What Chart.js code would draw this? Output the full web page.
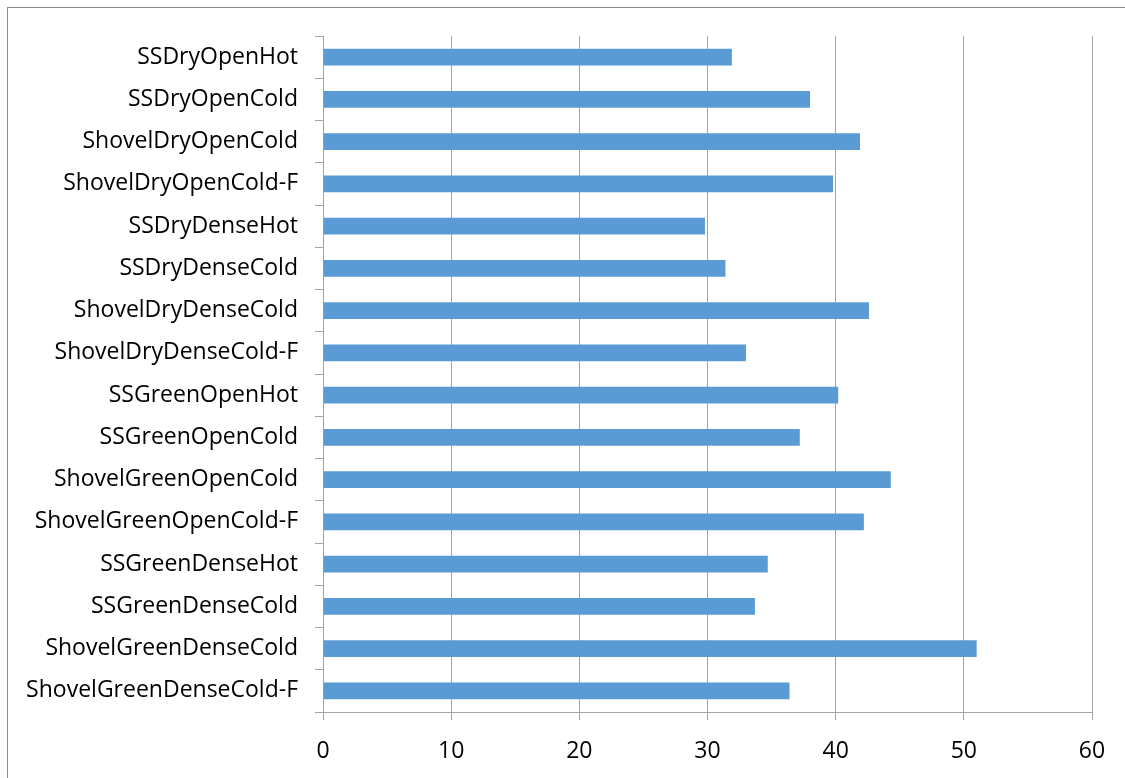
<!DOCTYPE html>
<html>
<head>
<meta charset="utf-8">
<script src="https://cdn.jsdelivr.net/npm/chart.js@4/dist/chart.umd.min.js"></script>
<style>
  html, body { margin: 0; padding: 0; background: #ffffff; }
  #wrap { width: 1125px; height: 778px; position: relative; }
</style>
</head>
<body>
<div id="wrap"><canvas id="chart"></canvas></div>
<script>
// Treatment categories, listed top to bottom
const categories = [
  'SSDryOpenHot',
  'SSDryOpenCold',
  'ShovelDryOpenCold',
  'ShovelDryOpenCold-F',
  'SSDryDenseHot',
  'SSDryDenseCold',
  'ShovelDryDenseCold',
  'ShovelDryDenseCold-F',
  'SSGreenOpenHot',
  'SSGreenOpenCold',
  'ShovelGreenOpenCold',
  'ShovelGreenOpenCold-F',
  'SSGreenDenseHot',
  'SSGreenDenseCold',
  'ShovelGreenDenseCold',
  'ShovelGreenDenseCold-F'
];

// One value per category
const values = [31.9, 38.0, 41.9, 39.8, 29.8, 31.4, 42.6, 33.0, 40.2, 37.2, 44.3, 42.2, 34.7, 33.7, 51.0, 36.4];

// Value axis range and step
const xMin = 0;
const xMax = 60;
const xStep = 10;

const gridColor = '#a4a4a4';
const fontFamily = "'Open Sans', 'DejaVu Sans', sans-serif";

// Thin frame round the chart (top and left edges fall inside the canvas)
const framePlugin = {
  id: 'frame',
  afterDraw(chart) {
    const ctx = chart.ctx;
    ctx.save();
    ctx.strokeStyle = '#8a8a8a';
    ctx.lineWidth = 1;
    ctx.strokeRect(7.5, 7.5, chart.width + 10, chart.height + 10);
    ctx.restore();
  }
};

new Chart(document.getElementById('chart'), {
  type: 'bar',
  data: {
    labels: categories,
    datasets: [{
      data: values,
      backgroundColor: '#5b9bd5',
      borderWidth: 0,
      categoryPercentage: 1.0,
      barPercentage: 0.4
    }]
  },
  options: {
    indexAxis: 'y',
    responsive: true,
    maintainAspectRatio: false,
    animation: false,
    layout: { padding: { top: 36, right: 33, bottom: 0, left: 0 } },
    plugins: {
      legend: { display: false },
      tooltip: { enabled: false }
    },
    scales: {
      x: {
        min: xMin,
        max: xMax,
        ticks: {
          stepSize: xStep,
          color: '#000000',
          font: { family: fontFamily, size: 23 },
          padding: 18
        },
        grid: {
          color: gridColor,
          lineWidth: 1,
          drawTicks: true,
          tickLength: 8,
          tickColor: gridColor
        },
        border: { display: true, color: gridColor, width: 1 },
        afterFit(scale) { scale.height = 66; }
      },
      y: {
        ticks: {
          color: '#000000',
          font: { family: fontFamily, size: 23 },
          padding: 17,
          autoSkip: false
        },
        grid: {
          offset: true,
          drawOnChartArea: false,
          drawTicks: true,
          tickLength: 8,
          color: gridColor,
          tickColor: gridColor
        },
        border: { display: true, color: gridColor, width: 1 },
        afterFit(scale) { scale.width = 323; }
      }
    }
  },
  plugins: [framePlugin]
});
</script>
</body>
</html>
